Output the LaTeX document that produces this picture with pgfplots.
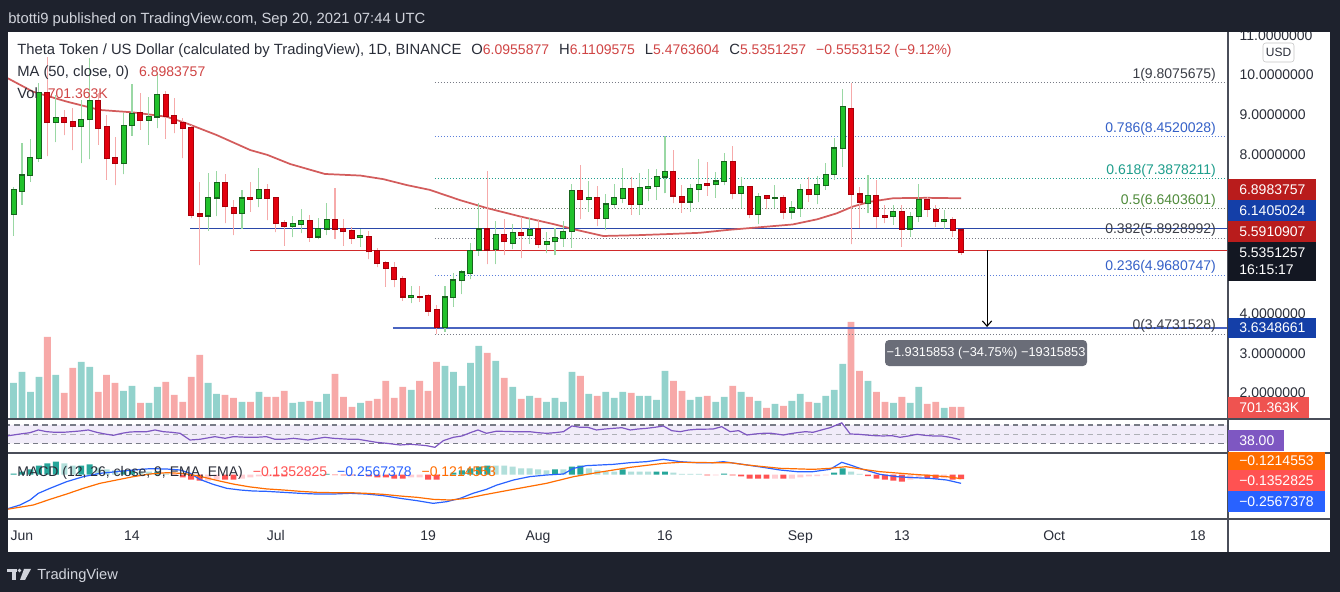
\documentclass[border=0pt]{standalone}
\usepackage{pgfplots}
\pgfplotsset{compat=1.18}
\usepackage{pgfplotstable}
\usepackage{fontspec}
\setmainfont{Liberation Sans}
\usetikzlibrary{arrows.meta}

\definecolor{bgdark}{HTML}{1E222D}
\definecolor{tvlight}{HTML}{D1D4DC}
\definecolor{txtdark}{HTML}{2A2E39}
\definecolor{valred}{HTML}{D04545}
\definecolor{bodyG}{HTML}{21C22B}
\definecolor{bordG}{HTML}{17641D}
\definecolor{bodyR}{HTML}{E3000E}
\definecolor{bordR}{HTML}{A8000A}
\definecolor{wickG}{HTML}{9AD8A4}
\definecolor{wickR}{HTML}{F6AAAA}
\definecolor{volG}{HTML}{92D2CC}
\definecolor{volR}{HTML}{F7A9A8}
\definecolor{maline}{HTML}{D35C5C}
\definecolor{fibgray}{HTML}{787B86}
\definecolor{fibtxt}{HTML}{3B3E47}
\definecolor{fibblue}{HTML}{3460C8}
\definecolor{fibbluel}{HTML}{5B7FDB}
\definecolor{fibteal}{HTML}{1E9E8C}
\definecolor{fibgreen}{HTML}{4F8B3B}
\definecolor{lineblue}{HTML}{2A47A8}
\definecolor{lineblue2}{HTML}{4A64C0}
\definecolor{linered}{HTML}{D02A2A}
\definecolor{rsiline}{HTML}{7E57C2}
\definecolor{rsiband}{HTML}{F1ECF9}
\definecolor{macdblue}{HTML}{2962FF}
\definecolor{macdorange}{HTML}{FF6D00}
\definecolor{histDT}{HTML}{26A69A}
\definecolor{histLT}{HTML}{B2DFDB}
\definecolor{histDR}{HTML}{FF5252}
\definecolor{histLR}{HTML}{FFCDD2}
\definecolor{sep}{HTML}{4A4E59}
\definecolor{lblMA}{HTML}{B91C1C}
\definecolor{lblBlue}{HTML}{143FA8}
\definecolor{lblVol}{HTML}{EF5350}
\definecolor{lblBlack}{HTML}{131722}
\definecolor{tip}{HTML}{6A6D78}

\newcommand\tvf{\fontsize{10.5pt}{12pt}\selectfont}
\newcommand\tvt{\fontsize{11.1pt}{13pt}\selectfont}

\pgfplotsset{
  panel/.style={scale only axis, anchor=south west, width=915pt,
    xmin=-1.655, xmax=142.55, axis line style={draw=none},
    xtick=\empty, ytick=\empty, major tick length=0pt, tick style={draw=none}},
  wick/.style={only marks, mark=*, mark size=0pt, mark options={draw=none, fill=none},
    error bars/.cd, y dir=plus, y explicit, error mark=none,
    error bar style={line width=0.8pt, draw=#1, solid}},
  body/.style 2 args={only marks, mark=*, mark size=0pt, mark options={draw=none, fill=none},
    error bars/.cd, y dir=plus, y explicit, error mark=none,
    error bar style={line width=#2, draw=#1, solid, line cap=butt}},
}

\pgfplotstableread{
d o h l c
-1 6.50 7.19 5.96 7.11
0 7.08 8.28 6.73 7.48
1 7.47 8.39 7.32 7.92
2 7.90 9.80 7.82 9.56
4 8.82 9.50 8.31 8.93
7 8.70 9.37 7.78 8.88
8 8.88 10.43 7.88 9.36
12 7.78 9.04 7.50 8.73
13 8.73 9.77 8.47 9.02
15 8.87 9.44 8.24 8.95
16 8.95 10.04 8.66 9.50
22 6.46 7.53 6.08 6.91
23 6.91 7.58 6.45 7.29
26 6.52 7.11 6.12 6.90
28 6.90 7.65 6.67 7.11
32 6.20 6.45 5.92 6.25
33 6.24 6.63 6.02 6.33
35 5.93 6.39 5.87 6.13
36 6.13 6.77 5.97 6.35
40 5.91 6.12 5.68 5.95
46 4.40 4.69 4.26 4.44
50 3.66 4.69 3.54 4.41
51 4.41 5.01 4.17 4.84
52 4.83 5.09 4.49 5.04
53 5.01 5.78 4.86 5.57
54 5.60 6.79 5.45 6.12
56 5.62 6.33 5.24 5.98
58 5.77 6.25 5.61 6.03
60 5.96 6.41 5.75 6.10
62 5.74 6.06 5.51 5.81
63 5.81 6.16 5.47 5.91
64 5.89 6.33 5.68 6.06
65 6.06 7.26 5.66 7.09
67 6.87 7.33 6.56 6.91
69 6.40 7.01 6.10 6.75
70 6.75 7.26 6.65 6.91
71 6.90 7.67 6.77 7.13
73 6.75 7.54 6.48 7.17
74 7.15 7.63 6.83 7.19
75 7.19 7.64 6.86 7.44
76 7.44 8.47 7.02 7.57
79 6.81 7.27 6.56 7.13
80 7.13 7.88 6.80 7.25
82 7.25 7.57 6.91 7.33
83 7.32 8.05 7.23 7.82
85 7.02 7.44 6.66 7.19
87 6.49 7.04 6.24 6.94
89 6.90 7.23 6.66 6.92
91 6.56 6.83 6.37 6.66
92 6.65 7.27 6.44 7.11
94 7.00 7.46 6.75 7.23
95 7.22 7.78 7.11 7.50
96 7.50 8.41 7.36 8.16
97 8.16 9.65 7.69 9.20
100 6.77 7.48 6.52 6.96
103 6.44 6.73 6.23 6.56
105 6.13 6.56 5.93 6.44
106 6.44 7.25 6.31 6.86
109 6.31 6.60 6.12 6.35
}\candG

\pgfplotstableread{
d o h l c
3 9.56 10.45 7.95 8.81
5 8.93 9.12 8.49 8.82
6 8.83 9.16 8.11 8.70
9 9.36 9.54 8.24 8.66
10 8.70 8.99 7.36 7.90
11 7.92 8.45 7.23 7.78
14 9.05 9.54 8.62 8.87
17 9.50 9.60 8.39 8.97
18 8.97 9.41 8.53 8.78
19 8.81 8.91 7.90 8.66
20 8.68 8.74 6.39 6.48
21 6.50 7.32 5.22 6.45
24 7.29 7.50 6.27 6.69
25 6.67 6.85 5.97 6.52
27 6.92 7.30 6.56 6.88
29 7.11 7.27 6.35 6.90
30 6.91 6.91 6.04 6.27
31 6.29 6.35 5.70 6.20
34 6.33 6.48 5.81 5.92
37 6.35 7.15 5.87 6.13
38 6.13 6.38 5.71 6.06
39 6.08 6.18 5.75 5.89
41 5.93 6.08 5.36 5.56
42 5.58 5.66 5.16 5.26
43 5.28 5.33 4.67 5.14
44 5.16 5.29 4.66 4.86
45 4.88 4.95 4.32 4.42
47 4.43 4.69 4.30 4.41
48 4.44 4.48 3.94 4.07
49 4.09 4.21 3.4732 3.65
55 6.12 7.59 5.24 5.60
57 5.98 6.38 5.47 5.81
59 6.03 6.42 5.39 5.96
61 6.12 6.37 5.66 5.74
66 7.09 7.74 6.37 6.87
68 6.91 7.21 6.20 6.40
72 7.13 7.44 6.48 6.75
77 7.57 8.11 6.77 6.96
78 6.94 7.23 6.54 6.81
81 7.27 7.82 6.96 7.23
84 7.82 8.22 6.87 7.02
86 7.19 7.19 6.39 6.49
88 6.96 6.98 6.62 6.90
90 6.91 6.98 6.37 6.56
93 7.11 7.44 6.81 7.00
98 9.16 9.8076 5.74 7.00
99 7.00 7.17 6.14 6.81
101 6.96 7.36 6.14 6.44
102 6.46 6.73 6.27 6.43
104 6.56 6.73 5.68 6.13
107 6.86 6.92 6.44 6.62
108 6.62 6.73 6.18 6.31
110 6.35 6.44 5.93 6.10
111 6.0956 6.1110 5.4764 5.5351
}\candR

\pgfplotstableread{
d v
-1 35
0 46
1 26
2 41
4 43
7 56
8 51
12 27
13 32
15 15
16 31
22 35
23 24
26 16
28 26
32 15
33 16
35 16
36 24
40 15
46 28
50 52
51 46
52 32
53 55
54 72
56 57
58 31
60 22
62 16
63 20
64 16
65 46
67 24
69 26
70 20
71 26
73 22
74 22
75 18
76 47
79 18
80 21
82 16
83 21
85 26
87 17
89 14
91 17
92 24
94 15
95 22
96 28
97 54
100 37
103 15
105 15
106 31
109 10
}\volG

\pgfplotstableread{
d v
3 81
5 25
6 50
9 26
10 43
11 35
14 15
17 36
18 23
19 16
20 41
21 63
24 23
25 20
27 16
29 21
30 21
31 27
34 17
37 44
38 21
39 11
41 17
42 19
43 37
44 20
45 31
47 37
48 27
49 56
55 65
57 40
59 19
61 20
66 42
68 22
72 25
77 37
78 27
81 22
84 32
86 21
88 10
90 12
93 16
98 96
99 47
101 26
102 16
104 21
107 14
108 16
110 11
111 11
}\volR

\newcommand{\plabel}[5]{%
  \fill[#1] (1228,{592-#3}) rectangle (#2,{592-#4});
  \node[anchor=west, inner sep=0pt, text=white] at (1239,{592-(#3+#4)/2}) {\tvf #5};}

\begin{document}
\begin{tikzpicture}[x=0.75pt,y=0.75pt]
\fill[bgdark] (0,0) rectangle (1340,592);
\fill[white] (8,40) rectangle (1330,560);

% ---------- volume ----------
\begin{axis}[panel, at={(6pt,129.75pt)}, height=290.25pt, ymin=-1, ymax=386]
\addplot[ybar, bar width=0.8, bar shift=0pt, fill=volG, draw=none] table[x=d,y=v] {\volG};
\addplot[ybar, bar width=0.8, bar shift=0pt, fill=volR, draw=none] table[x=d,y=v] {\volR};
\end{axis}

% ---------- price ----------
\begin{axis}[panel, at={(6pt,129.75pt)}, height=290.25pt, ymin=1.346, ymax=11.082,
  ytick={2,3,4,8,9,10,11},
  yticklabels={2.0000000,3.0000000,4.0000000,8.0000000,9.0000000,10.0000000,11.0000000},
  yticklabel pos=right,
  yticklabel style={anchor=west, inner sep=0pt, xshift=8.5pt, font=\tvf, text=txtdark}]
% fib levels
\addplot[fibgray, line width=0.75pt, dash pattern=on 0.75pt off 1.5pt] coordinates {(48.8,9.8076) (143,9.8076)};
\addplot[fibbluel, line width=0.75pt, dash pattern=on 0.75pt off 1.5pt] coordinates {(48.8,8.4520) (143,8.4520)};
\addplot[fibteal, line width=0.75pt, dash pattern=on 0.75pt off 1.5pt] coordinates {(48.8,7.3878) (143,7.3878)};
\addplot[fibgray!70!fibgreen, line width=0.75pt, dash pattern=on 0.75pt off 1.5pt] coordinates {(48.8,6.6404) (143,6.6404)};
\addplot[fibgray, line width=0.75pt, dash pattern=on 0.75pt off 1.5pt] coordinates {(48.8,5.8929) (143,5.8929)};
\addplot[fibbluel, line width=0.75pt, dash pattern=on 0.75pt off 1.5pt] coordinates {(48.8,4.9681) (143,4.9681)};
\addplot[fibgray, line width=0.75pt, dash pattern=on 0.75pt off 1.5pt] coordinates {(48.8,3.4732) (143,3.4732)};
% horizontal levels
\addplot[lineblue, line width=1.1pt] coordinates {(19.86,6.1405) (143,6.1405)};
\addplot[linered, line width=1.1pt] coordinates {(26.95,5.5911) (143,5.5911)};
\addplot[lineblue2, line width=1.1pt] coordinates {(43.85,3.6349) (143,3.6349)};
% MA 50
\addplot[maline, line width=1.3pt] coordinates {(-1.7,9.92) (1.3,9.58) (5.3,9.33) (9.2,9.12) (13.1,9.06) (17.1,8.95) (19.5,8.78) (23.0,8.49) (27.0,8.11) (29.0,7.99) (31.7,7.76) (35.8,7.51) (40.0,7.47) (42.7,7.38) (45.5,7.23) (48.2,7.11) (51.8,6.85) (55.0,6.65) (58.9,6.44) (62.8,6.25) (65.6,6.10) (68.7,5.95) (72.7,5.97) (76.6,6.00) (80.1,6.03) (83.3,6.10) (87.2,6.17) (91.1,6.24) (94.0,6.37) (96.3,6.52) (98.2,6.69) (100.2,6.81) (103.0,6.90) (107.0,6.91) (111,6.898)};
% candles
\addplot[wick=wickG] table[x=d, y=l, y error plus expr=\thisrow{h}-\thisrow{l}] {\candG};
\addplot[wick=wickR] table[x=d, y=l, y error plus expr=\thisrow{h}-\thisrow{l}] {\candR};
\addplot[body={bordG}{4.5pt}] table[x=d, y expr=\thisrow{o}-0.02, y error plus expr=\thisrow{c}-\thisrow{o}+0.04] {\candG};
\addplot[body={bodyG}{3.0pt}] table[x=d, y expr=\thisrow{o}+0.01, y error plus expr=\thisrow{c}-\thisrow{o}-0.02] {\candG};
\addplot[body={bordR}{4.5pt}] table[x=d, y expr=\thisrow{c}-0.02, y error plus expr=\thisrow{o}-\thisrow{c}+0.04] {\candR};
\addplot[body={bodyR}{3.0pt}] table[x=d, y expr=\thisrow{c}+0.01, y error plus expr=\thisrow{o}-\thisrow{c}-0.02] {\candR};
% measure arrow
\addplot[black, line width=0.8pt, -{Straight Barb[length=4pt,width=7pt]}] coordinates {(114.07,5.59) (114.07,3.66)};
% fib labels
\node[anchor=south east, inner sep=1pt, text=fibtxt] at (axis cs:141.3,9.8076) {\tvf 1(9.8075675)};
\node[anchor=south east, inner sep=1pt, text=fibblue] at (axis cs:141.3,8.4520) {\tvf 0.786(8.4520028)};
\node[anchor=south east, inner sep=1pt, text=fibteal] at (axis cs:141.3,7.3878) {\tvf 0.618(7.3878211)};
\node[anchor=south east, inner sep=1pt, text=fibgreen] at (axis cs:141.3,6.6404) {\tvf 0.5(6.6403601)};
\node[anchor=south east, inner sep=1pt, text=fibtxt] at (axis cs:141.3,5.8929) {\tvf 0.382(5.8928992)};
\node[anchor=south east, inner sep=1pt, text=fibblue] at (axis cs:141.3,4.9681) {\tvf 0.236(4.9680747)};
\node[anchor=south east, inner sep=1pt, text=fibtxt] at (axis cs:141.3,3.4732) {\tvf 0(3.4731528)};
% tooltip
\node[fill=tip, rounded corners=3pt, minimum width=151.5pt, minimum height=19.5pt, text=white, inner sep=0pt] at (axis cs:113.95,3.006) {\fontsize{9.6pt}{11pt}\selectfont −1.9315853 (−34.75\%) −19315853};
\end{axis}

% ---------- RSI ----------
\begin{axis}[panel, at={(6pt,104.25pt)}, height=25.5pt, ymin=8.8, ymax=83.1]
\addplot[draw=none, fill=rsiband] coordinates {(-2,30) (143,30) (143,70) (-2,70) (-2,30)};
\addplot[fibgray, line width=0.8pt, dash pattern=on 4pt off 3pt] coordinates {(-2,70) (143,70)};
\addplot[fibgray!60, line width=0.8pt, dash pattern=on 4pt off 3pt] coordinates {(-2,50) (143,50)};
\addplot[fibgray, line width=0.8pt, dash pattern=on 4pt off 3pt] coordinates {(-2,30) (143,30)};
\addplot[rsiline, line width=0.9pt] coordinates {(-1.8,46.0)(-0.24,50.3)(0.95,53.2)(1.93,59.1)(2.92,55.4)(3.9,54.0)(4.89,54.0)(5.87,55.4)(6.86,56.9)(7.84,59.1)(8.83,54.0)(9.81,50.3)(10.8,47.4)(11.8,51.8)(12.77,54.7)(13.75,55.4)(14.74,55.4)(15.72,59.1)(16.7,55.4)(17.7,54.0)(18.68,51.8)(19.86,37.2)(21.0,38.7)(22.8,44.5)(24.0,40.9)(25.0,44.5)(26.6,43.1)(27.7,43.1)(28.9,44.5)(29.9,38.7)(30.9,38.7)(32.1,40.9)(33.8,37.2)(35.8,43.1)(36.8,40.9)(38.8,38.7)(39.75,38.7)(40.7,35.8)(41.9,32.1)(43.1,30.0)(44.7,26.3)(45.9,27.8)(47.0,26.3)(47.8,24.9)(48.8,21.2)(49.8,35.8)(51.0,43.1)(52.0,46.0)(53.0,53.2)(53.9,59.1)(54.9,51.8)(56.1,56.5)(58.1,55.4)(60.0,55.4)(61.0,53.2)(62.0,51.8)(63.0,53.2)(64.0,55.4)(65.0,67.8)(66.0,64.9)(66.9,64.9)(67.9,59.1)(68.9,61.2)(69.9,62.7)(70.9,64.1)(71.9,59.1)(72.8,61.2)(73.8,62.7)(74.8,64.9)(75.8,67.8)(76.8,57.6)(77.8,55.4)(78.8,59.1)(79.7,60.5)(81.7,61.2)(82.7,66.3)(83.7,55.4)(84.7,57.6)(85.7,48.1)(86.6,50.3)(87.6,51.8)(88.6,51.8)(90.0,48.1)(90.6,50.3)(91.6,53.2)(92.6,55.4)(93.5,54.0)(94.5,59.1)(95.5,64.1)(96.9,74.7)(97.9,50.3)(98.9,49.6)(99.8,48.1)(100.8,46.7)(101.8,46.0)(102.8,46.7)(103.8,43.1)(104.8,46.0)(105.8,49.6)(106.7,47.4)(107.7,46.0)(108.7,46.0)(109.7,43.1)(110.9,38.0)};
\end{axis}

% ---------- MACD ----------
\begin{axis}[panel, at={(6pt,54.75pt)}, height=49.5pt, ymin=-1.297, ymax=0.627,
  xtick={0,13,30,48,61,76,92,104,122,139},
  xticklabels={Jun,14,Jul,19,Aug,16,Sep,13,Oct,18},
  xticklabel style={anchor=base, inner sep=0pt, yshift=-16.5pt, font=\tvf, text=txtdark}]
\addplot[ybar, bar width=0.7, bar shift=0pt, fill=histDT, draw=none] coordinates {(-1,0.029)(0,0.087)(1,0.146)(2,0.262)(3,0.321)(4,0.379)(7,0.262)(8,0.292)(12,0.117)(13,0.117)(16,0.087)(36,0.015)(51,0.058)(52,0.117)(53,0.175)(54,0.233)(55,0.262)(63,0.146)(65,0.233)(66,0.262)(71,0.146)(75,0.087)(76,0.087)(83,0.029)(96,0.058)(97,0.175)};
\addplot[ybar, bar width=0.7, bar shift=0pt, fill=histLT, draw=none] coordinates {(5,0.321)(6,0.262)(9,0.204)(10,0.146)(11,0.117)(14,0.087)(15,0.087)(17,0.029)(56,0.262)(57,0.262)(58,0.233)(59,0.175)(60,0.175)(61,0.146)(62,0.117)(64,0.146)(67,0.175)(68,0.117)(69,0.087)(70,0.087)(72,0.087)(73,0.087)(74,0.087)(77,0.058)(78,0.015)(79,0.015)(80,0.015)(98,0.087)(99,0.015)};
\addplot[ybar, bar width=0.7, bar shift=0pt, fill=histDR, draw=none] coordinates {(18,-0.029)(19,-0.087)(20,-0.146)(21,-0.175)(24,-0.146)(25,-0.146)(30,-0.058)(31,-0.058)(37,-0.015)(38,-0.029)(39,-0.029)(41,-0.058)(42,-0.087)(43,-0.087)(44,-0.117)(45,-0.117)(48,-0.146)(49,-0.146)(81,-0.029)(84,-0.029)(85,-0.058)(86,-0.117)(87,-0.117)(88,-0.117)(90,-0.117)(100,-0.044)(101,-0.117)(102,-0.146)(103,-0.175)(104,-0.204)(107,-0.102)(108,-0.117)(110,-0.146)(111,-0.135)};
\addplot[ybar, bar width=0.7, bar shift=0pt, fill=histLR, draw=none] coordinates {(22,-0.175)(23,-0.146)(26,-0.117)(27,-0.087)(28,-0.058)(29,-0.058)(32,-0.029)(33,-0.029)(34,-0.029)(35,-0.029)(40,-0.029)(46,-0.087)(47,-0.087)(50,-0.029)(82,-0.029)(89,-0.117)(91,-0.117)(92,-0.087)(93,-0.058)(94,-0.044)(95,-0.029)(105,-0.146)(106,-0.102)(109,-0.102)};
\addplot[macdblue, line width=0.9pt] coordinates {(-1.8,-1.006)(-0.24,-0.889)(0.95,-0.743)(1.93,-0.549)(3.31,-0.403)(5.28,-0.209)(7.25,-0.063)(9.22,0.034)(11.19,0.083)(13.16,0.131)(15.13,0.170)(17.1,0.160)(18.7,0.131)(19.9,0.034)(21.0,-0.141)(22.6,-0.287)(24.2,-0.403)(25.8,-0.452)(27.3,-0.481)(28.9,-0.491)(30.9,-0.520)(32.9,-0.549)(34.8,-0.569)(36.8,-0.569)(38.8,-0.549)(40.7,-0.569)(42.7,-0.617)(44.7,-0.695)(46.7,-0.763)(48.6,-0.841)(50.2,-0.792)(51.8,-0.695)(53.3,-0.549)(54.9,-0.432)(56.1,-0.31)(58.1,-0.160)(60.0,-0.063)(62.0,-0.015)(64.0,0.015)(65.2,0.180)(66.7,0.258)(69.9,0.296)(71.9,0.345)(73.8,0.374)(75.8,0.442)(77.8,0.374)(79.7,0.345)(81.7,0.345)(82.9,0.374)(84.9,0.306)(87.6,0.209)(89.6,0.131)(91.6,0.083)(93.5,0.083)(95.5,0.150)(96.9,0.355)(97.9,0.277)(99.4,0.150)(101.4,0.005)(103.4,-0.063)(105.4,-0.092)(107.3,-0.112)(109.3,-0.160)(111,-0.257)};
\addplot[macdorange, line width=0.9pt] coordinates {(-1.8,-1.016)(1.34,-0.889)(3.31,-0.724)(5.28,-0.569)(7.25,-0.403)(9.22,-0.257)(11.19,-0.160)(13.16,-0.063)(15.13,0.015)(17.1,0.053)(19.1,0.03)(21.0,-0.05)(23.0,-0.17)(25.0,-0.28)(26.9,-0.36)(28.9,-0.42)(30.9,-0.452)(32.9,-0.491)(34.8,-0.520)(36.8,-0.530)(38.8,-0.530)(40.7,-0.549)(42.7,-0.578)(44.7,-0.627)(46.7,-0.666)(48.6,-0.724)(50.6,-0.744)(52.6,-0.695)(54.5,-0.597)(58.1,-0.432)(62.0,-0.257)(65.2,-0.063)(67.9,0.053)(71.9,0.209)(75.8,0.325)(77.8,0.355)(81.7,0.345)(83.7,0.345)(85.7,0.277)(89.6,0.180)(93.5,0.150)(95.5,0.180)(97.4,0.228)(99.4,0.150)(101.4,0.083)(105.4,0.005)(109.3,-0.063)(111,-0.1215)};
\end{axis}

% ---------- separators ----------
\draw[sep, line width=1.1pt] (8,173) -- (1330,173);
\draw[sep, line width=1.1pt] (8,139) -- (1330,139);
\draw[sep, line width=1.1pt] (8,73) -- (1330,73);
\draw[sep, line width=1.1pt] (1228,40) -- (1228,560);

% ---------- legends ----------
\node[anchor=base west, inner sep=0pt, text=txtdark] at (17,537) {\tvt Theta Token / US Dollar (calculated by TradingView), 1D, BINANCE\hspace{7.5pt}O\textcolor{valred}{\tvf 6.0955877}\hspace{7.5pt}H\textcolor{valred}{\tvf 6.1109575}\hspace{7.5pt}L\textcolor{valred}{\tvf 5.4763604}\hspace{7.5pt}C\textcolor{valred}{\tvf 5.5351257}\hspace{7.5pt}\textcolor{valred}{\tvf −0.5553152 (−9.12\%)}};
\node[anchor=base west, inner sep=0pt, text=txtdark] at (17,515) {\tvt MA (50, close, 0)\hspace{7.5pt}\textcolor{valred}{\tvf 6.8983757}};
\node[anchor=base west, inner sep=0pt, text=txtdark] at (17,493) {\tvt Vol\hspace{7.5pt}\textcolor{valred}{\tvf 701.363K}};
\node[anchor=base west, inner sep=0pt, text=txtdark] at (17,115) {\tvf MACD (12, 26, close, 9, EMA, EMA)\hspace{7.5pt}\textcolor{histDR}{−0.1352825}\hspace{7.5pt}\textcolor{macdblue}{−0.2567378}\hspace{7.5pt}\textcolor{macdorange}{−0.1214553}};

% ---------- price-scale labels ----------
\plabel{lblMA}{1316}{179}{200}{6.8983757}
\plabel{lblBlue}{1316}{200}{221}{6.1405024}
\plabel{lblMA}{1316}{221}{242}{5.5910907}
\fill[lblBlack] (1228,{592-242}) rectangle (1316,{592-281});
\node[anchor=west, inner sep=0pt, text=white] at (1239,{592-253}) {\tvf 5.5351257};
\node[anchor=west, inner sep=0pt, text=white] at (1239,{592-270}) {\tvf 16:15:17};
\plabel{lblBlue}{1316}{318}{338}{3.6348661}
\plabel{lblVol}{1309}{397}{418}{701.363K}
\plabel{rsiline}{1284}{430}{451}{38.00}
\plabel{macdorange}{1325}{452}{470}{−0.1214553}
\plabel{histDR}{1325}{470}{491}{−0.1352825}
\plabel{macdblue}{1325}{491}{512}{−0.2567378}
\draw[fill=white, draw=gray!45, rounded corners=2pt] (1263,{592-43}) rectangle (1294,{592-62});
\node[text=txtdark, inner sep=0pt] at (1278.5,{592-52.5}) {\fontsize{9pt}{10pt}\selectfont USD};

% ---------- frame ----------
\fill[bgdark] (0,560) rectangle (1340,592);
\fill[bgdark] (1330,0) rectangle (1340,592);
\node[anchor=base west, inner sep=0pt, text=tvlight] at (8,568) {\tvt btotti9 published on TradingView.com, Sep 20, 2021 07:44 UTC};
\fill[tvlight] (7,23) rectangle (17,20);
\fill[tvlight] (12,20) rectangle (16,12);
\fill[tvlight] (19.5,21.5) circle (1.8);
\fill[tvlight] (24,23) -- (31,23) -- (25,12) -- (20,12) -- cycle;
\node[anchor=base west, inner sep=0pt, text=tvlight] at (37,12) {\fontsize{11pt}{12pt}\selectfont TradingView};
\end{tikzpicture}
\end{document}
